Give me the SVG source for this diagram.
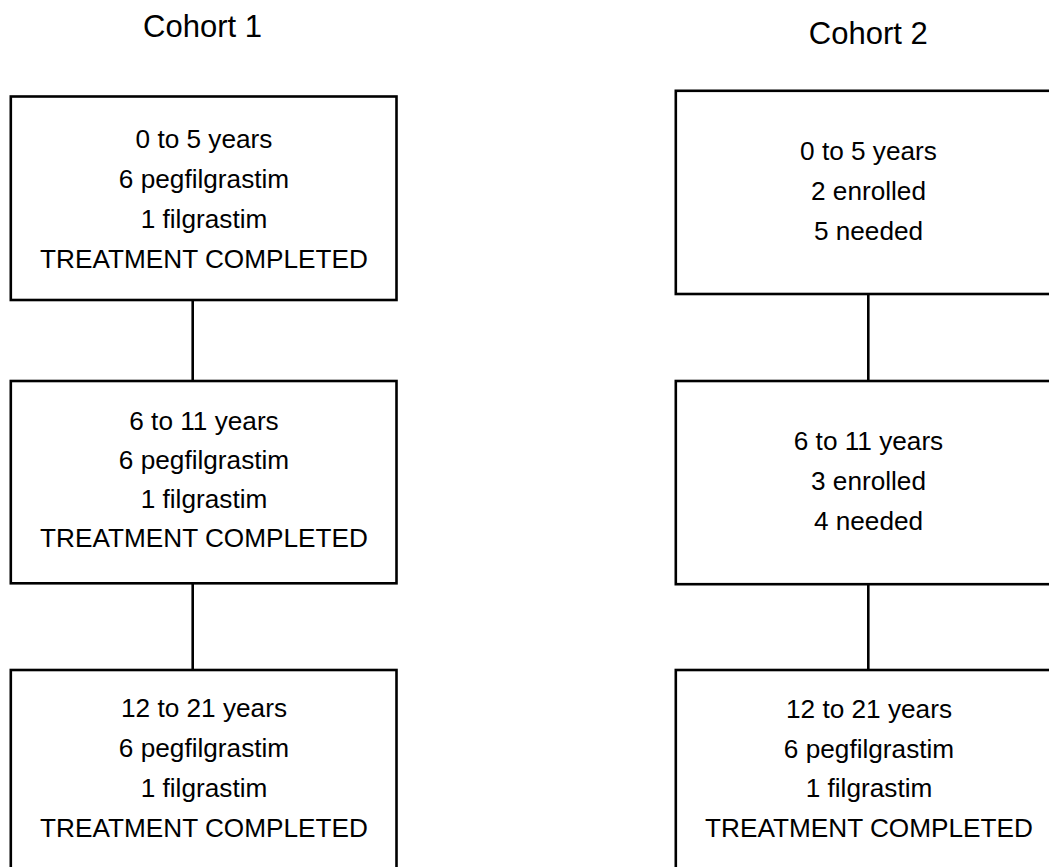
<svg xmlns="http://www.w3.org/2000/svg" width="1049" height="867" viewBox="0 0 1049 867">
<style>
.box{fill:#fff;stroke:#000;stroke-width:2.6}
.con{stroke:#000;stroke-width:2.6;fill:none}
.t{font-family:"Liberation Sans",Arial,sans-serif;font-size:26.2px;fill:#000;text-anchor:middle}
.h{font-family:"Liberation Sans",Arial,sans-serif;font-size:31px;fill:#000;text-anchor:middle}
</style>
<rect width="1049" height="867" fill="#fff"/>
<text class="h" x="202.5" y="37.3">Cohort 1</text>
<text class="h" x="868.3" y="44">Cohort 2</text>
<g id="connectors">
<line class="con" x1="192.7" y1="300" x2="192.7" y2="381"/>
<line class="con" x1="192.7" y1="583.3" x2="192.7" y2="670"/>
<line class="con" x1="868.3" y1="294" x2="868.3" y2="381"/>
<line class="con" x1="868.3" y1="584.2" x2="868.3" y2="670"/>
</g>
<g id="c1-age0-5">
<rect class="box" x="10.8" y="96.5" width="385.7" height="203.5"/>
<text class="t" x="204" y="148.3">0 to 5 years</text>
<text class="t" x="204" y="188.3">6 pegfilgrastim</text>
<text class="t" x="204" y="228.3">1 filgrastim</text>
<text class="t" x="204" y="268.3">TREATMENT COMPLETED</text>
</g>
<g id="c1-age6-11">
<rect class="box" x="10.8" y="381" width="385.7" height="202.3"/>
<text class="t" x="204" y="429.5">6 to 11 years</text>
<text class="t" x="204" y="468.5">6 pegfilgrastim</text>
<text class="t" x="204" y="507.5">1 filgrastim</text>
<text class="t" x="204" y="546.5">TREATMENT COMPLETED</text>
</g>
<g id="c1-age12-21">
<rect class="box" x="10.8" y="670" width="385.7" height="220"/>
<text class="t" x="204" y="717">12 to 21 years</text>
<text class="t" x="204" y="757">6 pegfilgrastim</text>
<text class="t" x="204" y="797">1 filgrastim</text>
<text class="t" x="204" y="837">TREATMENT COMPLETED</text>
</g>
<g id="c2-age0-5">
<rect class="box" x="675.8" y="90.8" width="385.5" height="203.2"/>
<text class="t" x="868.5" y="160">0 to 5 years</text>
<text class="t" x="868.5" y="200.3">2 enrolled</text>
<text class="t" x="868.5" y="240.3">5 needed</text>
</g>
<g id="c2-age6-11">
<rect class="box" x="675.8" y="381" width="385.5" height="203.2"/>
<text class="t" x="868.5" y="449.5">6 to 11 years</text>
<text class="t" x="868.5" y="489.5">3 enrolled</text>
<text class="t" x="868.5" y="529.7">4 needed</text>
</g>
<g id="c2-age12-21">
<rect class="box" x="675.8" y="670" width="385.5" height="220"/>
<text class="t" x="869" y="718">12 to 21 years</text>
<text class="t" x="869" y="757.5">6 pegfilgrastim</text>
<text class="t" x="869" y="797">1 filgrastim</text>
<text class="t" x="869" y="836.5">TREATMENT COMPLETED</text>
</g>
</svg>
